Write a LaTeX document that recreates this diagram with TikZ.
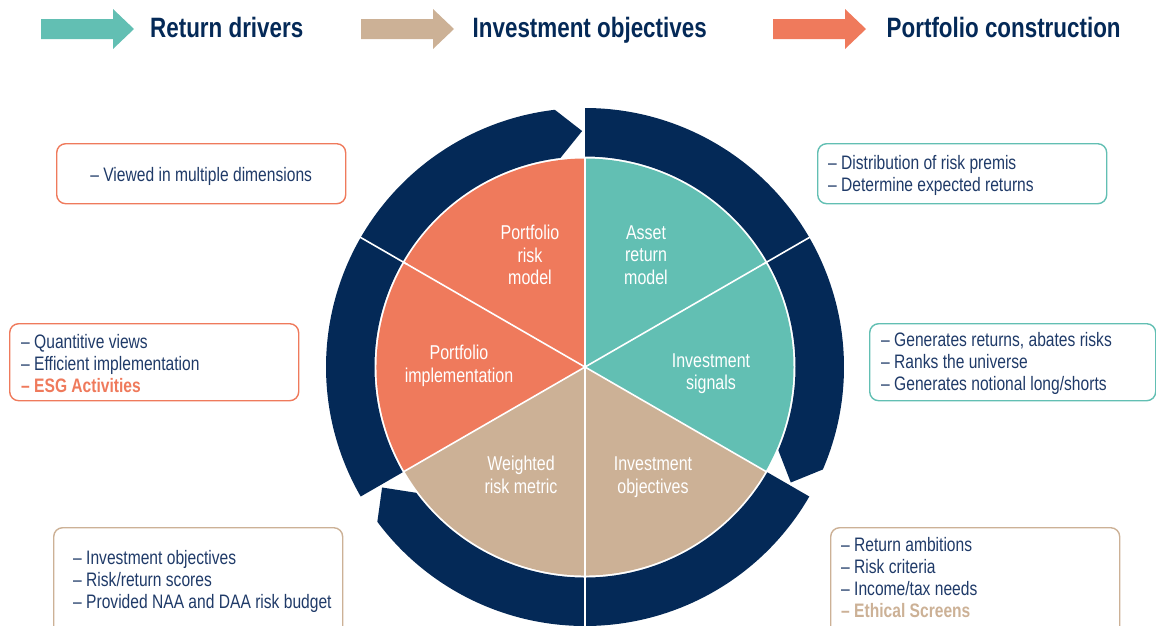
\documentclass[tikz,border=0pt]{standalone}
\usepackage{fontspec}
\setmainfont[FakeStretch=0.8]{Liberation Sans}
\usepackage{tikz}
\usetikzlibrary{positioning}
\usepackage{xcolor}
\definecolor{drvteal}{HTML}{62BFB3}
\definecolor{objtan}{HTML}{CCB196}
\definecolor{conorange}{HTML}{EF7A5C}
\definecolor{ringnavy}{HTML}{042957}
\definecolor{txtnavy}{HTML}{1F3A68}

\begin{document}
\begin{tikzpicture}[x=1pt, y=1pt,
% styles
hdrtext/.style={inner sep=0pt, text=ringnavy, font=\fontsize{28}{30}\selectfont\bfseries, text height=20.6pt, text depth=4pt},
slicetext/.style={text=white, align=center, font=\fontsize{20}{22.5}\selectfont, inner sep=0pt},
infobox/.style={draw, rounded corners=9pt, line width=1.4pt, anchor=north west, minimum width=289pt, minimum height=60pt, inner sep=0pt},
infotext/.style={text=txtnavy, align=left, font=\fontsize{19.5}{22}\selectfont, inner sep=0pt},
]
\useasboundingbox (0,0) rectangle (1156,-625);
\clip (0,0) rectangle (1156,-625);

% header
\foreach \x/\col [count=\i] in {41/drvteal,361/objtan,773/conorange}{
  \fill[\col] (\x,-19) -- ++(72,0) -- ++(0,10) -- ++(21,-20) -- ++(-21,-20) -- ++(0,10) -- ++(-72,0) -- cycle;
  \coordinate (tip\i) at (\x+93,-29);
}
\node[hdrtext, right=16pt of tip1]   (hdr1) {Return drivers};
\node[hdrtext, right=18.5pt of tip2] (hdr2) {Investment objectives};
\node[hdrtext, right=20.5pt of tip3] (hdr3) {Portfolio construction};

% wheel
\coordinate (c) at (585,-367);
\foreach \s/\col in {90/drvteal,-30/objtan,210/conorange}
  \fill[\col] (c) -- ([shift={(\s:208.5)}]c) arc[start angle=\s, end angle=\s-120, radius=208.5] -- cycle;
\foreach \a in {90,30,...,-210}
  \draw[white, line width=1.6pt] (c) -- ([shift={(\a:209)}]c);

% ring arrows
\foreach \s in {210,90,-30}{
  \fill[ringnavy] ([shift={(\s:210.5)}]c) arc[start angle=\s, end angle=\s-113.3, radius=210.5]
    -- ([shift={(\s-119.3:236)}]c) -- ([shift={(\s-113.3:259)}]c)
    arc[start angle=\s-113.3, end angle=\s, radius=259] -- cycle;
  \draw[white, line width=1.6pt] ([shift={(\s-60:205)}]c) -- ([shift={(\s-60:262)}]c);
}

% slice labels
\node[slicetext] (arm)  at (646,-255) {Asset\\return\\model};
\node[slicetext] (prm)  at (530,-255) {Portfolio\\risk\\model};
\node[slicetext] (sig)  at (711,-373.5) {Investment\\signals};
\node[slicetext] (impl) at (459,-366) {Portfolio\\implementation};
\node[slicetext] (wrm)  at (521,-475) {Weighted\\risk metric};
\node[slicetext] (iobj) at (653,-477) {Investment\\objectives};

% boxes
\node[infobox, draw=conorange] (dimbox) at (56,-143) {};
\node[infobox, draw=conorange, minimum height=77pt] (implbox) at (9,-323) {};
\node[infobox, draw=drvteal] (premibox) at (817,-143) {};
\node[infobox, draw=drvteal, minimum width=286pt, minimum height=77pt] (sigbox) at (869,-323) {};
\node[infobox, draw=objtan, minimum height=115pt] (scorebox) at (53,-527) {};
\node[infobox, draw=objtan, minimum height=115pt] (ambbox) at (830,-527) {};

\node[infotext] (dimtext) at ([yshift=-2.5pt]dimbox.center) {– Viewed in multiple dimensions};
\node[infotext, anchor=west] (impltext) at ([xshift=12pt, yshift=-1pt]implbox.west)
  {– Quantitive views\\– Efficient implementation\\\textcolor{conorange}{\bfseries – ESG Activities}};
\node[infotext, anchor=west] (premitext) at ([xshift=11pt, yshift=-2pt]premibox.west)
  {– Distribution of risk premis\\– Determine expected returns};
\node[infotext, anchor=west] (sigtext) at ([xshift=12pt, yshift=-1.5pt]sigbox.west)
  {– Generates returns, abates risks\\– Ranks the universe\\– Generates notional long/shorts};
\node[infotext, anchor=west] (scoretext) at (73,-581.5)
  {– Investment objectives\\– Risk/return scores\\– Provided NAA and DAA risk budget};
\node[infotext, anchor=west] (ambtext) at (841,-578)
  {– Return ambitions\\– Risk criteria\\– Income/tax needs\\\textcolor{objtan}{\bfseries – Ethical Screens}};

\end{tikzpicture}
\end{document}
